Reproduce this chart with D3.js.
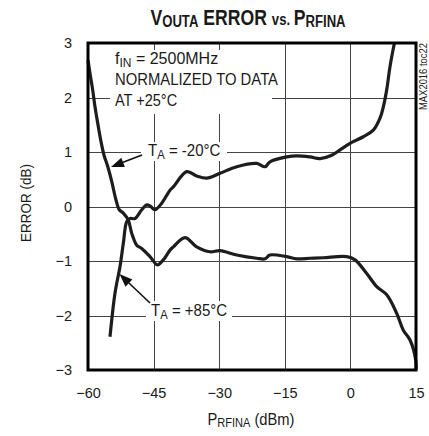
<!DOCTYPE html>
<html>
<head>
<meta charset="utf-8">
<script src="https://cdn.jsdelivr.net/npm/d3@7"></script>
<style>
  body { margin: 0; background: #fff; }
  svg { display: block; }
  text { font-family: "Liberation Sans", Arial, sans-serif; fill: #1a1a1a; }
</style>
</head>
<body>
<svg id="chart" width="429" height="436"></svg>
<script>
// tick values
const xTicks = [-60, -45, -30, -15, 0, 15];
const yTicks = [-3, -2, -1, 0, 1, 2, 3];

// TA = -20C curve (starts top left, ends at -3 dB)
const coldPower = [-60, -59.54, -58.93, -58.4, -57.78, -57.1, -56.34, -55.59, -54.58, -53.6, -52.84, -51.93, -50.78, -50.01,
  -48.86, -47.72, -45.82, -44.15, -42.78, -41.25, -40.49, -37.82, -35.14, -32.1, -29.81, -26.0, -21.42, -19.5, -18.4,
  -14.56, -12.28, -9.24, -6.19, -0.84, 1.06, 3.73, 6.02, 8.31, 10.59, 12.1, 13.63, 14.94, 15];
const coldError = [2.69, 2.44, 2.14, 1.83, 1.53, 1.22, 0.94, 0.76, 0.46, 0.12, -0.06, -0.12, -0.25, -0.49,
  -0.71, -0.77, -0.92, -1.07, -0.98, -0.80, -0.74, -0.57, -0.74, -0.83, -0.81, -0.89, -0.95, -0.96, -0.89,
  -0.92, -0.96, -0.95, -0.94, -0.92, -0.98, -1.23, -1.47, -1.62, -1.96, -2.27, -2.45, -2.82, -3.0];

// TA = +85C curve (starts bottom left, ends at +3 dB)
const hotPower = [-54.97, -53.83, -52.68, -51.93, -51.15, -50.4, -49.25, -47.72, -46.58, -45.82, -44.68, -43.15, -41.25,
  -40.49, -37.43, -35.14, -32.86, -29.81, -26.0, -21.42, -19.52, -18.38, -14.56, -12.28, -9.24, -6.95, -4.27, -2.35,
  -0.09, 2.95, 5.24, 6.77, 7.53, 8.3, 9.06, 10.04];
const hotError = [-2.39, -1.59, -1.10, -0.68, -0.28, -0.22, -0.22, -0.06, 0.03, 0.01, -0.06, 0.06, 0.30,
  0.36, 0.64, 0.56, 0.52, 0.61, 0.73, 0.79, 0.73, 0.82, 0.91, 0.93, 0.91, 0.88, 0.94, 1.04,
  1.16, 1.28, 1.40, 1.62, 1.83, 2.14, 2.57, 2.99];

const W = 429, H = 436;
const plotL = 88, plotR = 416, plotT = 43, plotB = 370;

const svg = d3.select('#chart');
svg.append('rect').attr('width', W).attr('height', H).attr('fill', '#fff');

const x = d3.scaleLinear().domain([-60, 15]).range([plotL, plotR]);
const y = d3.scaleLinear().domain([-3, 3]).range([plotB, plotT]);

// axes with grid lines
const xAxis = svg.append('g')
  .attr('transform', `translate(0,${plotB})`)
  .call(d3.axisBottom(x).tickValues(xTicks).tickSize(-(plotB - plotT)).tickPadding(18).tickFormat(d3.format('d')));
const yAxis = svg.append('g')
  .attr('transform', `translate(${plotL},0)`)
  .call(d3.axisLeft(y).tickValues(yTicks).tickSize(-(plotR - plotL)).tickPadding(16).tickFormat(d3.format('d')));

[xAxis, yAxis].forEach(g => {
  g.select('.domain').remove();
  g.selectAll('line').attr('stroke', '#444').attr('stroke-width', 1).attr('shape-rendering', 'crispEdges');
  g.selectAll('text').attr('font-size', 14.5).attr('fill', '#1a1a1a')
    .style('font-family', '"Liberation Sans", Arial, sans-serif');
});

// white boxes behind annotation text
const boxes = [
  [110, 50, 162, 64],
  [141, 142, 86, 19],
  [146, 301, 86, 20]
];
svg.append('g').selectAll('rect').data(boxes).join('rect')
  .attr('x', d => d[0]).attr('y', d => d[1]).attr('width', d => d[2]).attr('height', d => d[3])
  .attr('fill', '#fff');

// curves
const line = d3.line()
  .x(d => x(d[0])).y(d => y(d[1]))
  .curve(d3.curveCatmullRom.alpha(0.5));

const series = [d3.zip(coldPower, coldError), d3.zip(hotPower, hotError)];
svg.append('g').selectAll('path').data(series).join('path')
  .attr('d', line)
  .attr('fill', 'none')
  .attr('stroke', '#1d1d1d')
  .attr('stroke-width', 3.2)
  .attr('stroke-linejoin', 'round')
  .attr('stroke-linecap', 'butt');

// frame
svg.append('rect')
  .attr('x', plotL).attr('y', plotT).attr('width', plotR - plotL).attr('height', plotB - plotT)
  .attr('fill', 'none').attr('stroke', '#000').attr('stroke-width', 3);

// condensed text helper
function ctext(px, py, sx, rot) {
  const g = svg.append('g').attr('transform', `translate(${px},${py})${rot ? ' rotate(' + rot + ')' : ''} scale(${sx},1)`);
  return g.append('text');
}

// title
const title = ctext(248, 25, 0.82).attr('text-anchor', 'middle')
  .attr('font-weight', 'bold').attr('font-size', 21.5);
title.append('tspan').text('V');
title.append('tspan').attr('font-size', 16).attr('dy', 2).text('OUTA');
title.append('tspan').attr('dy', -2).text(' ERROR ');
title.append('tspan').attr('font-size', 16).text('vs. ');
title.append('tspan').text('P');
title.append('tspan').attr('font-size', 16).attr('dy', 2).text('RFINA');

// x axis title
const xt = ctext(251, 425, 0.92).attr('text-anchor', 'middle').attr('font-size', 16);
xt.append('tspan').text('P');
xt.append('tspan').attr('font-size', 12).attr('dy', 2).text('RFINA');
xt.append('tspan').attr('dy', -2).text(' (dBm)');

// y axis title
ctext(31, 203, 0.87, -90).attr('text-anchor', 'middle').attr('font-size', 15.5).text('ERROR (dB)');

// annotation
const f = ctext(115, 64, 1.0).attr('font-size', 16);
f.append('tspan').text('f');
f.append('tspan').attr('font-size', 12).attr('dy', 3).text('IN');
f.append('tspan').attr('dy', -3).text(' = 2500MHz');
ctext(115, 85, 0.9).attr('font-size', 16.5).text('NORMALIZED TO DATA');
ctext(115, 106, 0.88).attr('font-size', 16.5).text('AT +25°C');

// curve labels
function tempLabel(px, py, t) {
  const txt = ctext(px, py, 0.94).attr('font-size', 16);
  txt.append('tspan').text('T');
  txt.append('tspan').attr('font-size', 12).attr('dy', 3).text('A');
  txt.append('tspan').attr('dy', -3).text(' = ' + t);
}
tempLabel(148, 156, '-20°C');
tempLabel(151, 316, '+85°C');

// arrows
function arrow(x1, y1, x2, y2) {
  const ang = Math.atan2(y2 - y1, x2 - x1);
  const len = 13, half = 5;
  const bx = x2 - len * Math.cos(ang), by = y2 - len * Math.sin(ang);
  svg.append('line').attr('x1', x1).attr('y1', y1).attr('x2', bx).attr('y2', by)
    .attr('stroke', '#111').attr('stroke-width', 1.6);
  const pts = [
    [x2, y2],
    [bx + half * Math.sin(ang), by - half * Math.cos(ang)],
    [bx - half * Math.sin(ang), by + half * Math.cos(ang)]
  ];
  svg.append('polygon').attr('points', pts.map(p => p.join(',')).join(' ')).attr('fill', '#111');
}
arrow(x(-47.65), y(0.945), x(-54.74), y(0.725));
arrow(x(-45.82), y(-1.77), x(-52.8), y(-1.24));

// figure code
svg.append('text').attr('transform', 'translate(427,110) rotate(-90)')
  .attr('font-size', 10).attr('fill', '#333').attr('textLength', 67).attr('lengthAdjust', 'spacingAndGlyphs')
  .text('MAX2016 toc22');
</script>
</body>
</html>
